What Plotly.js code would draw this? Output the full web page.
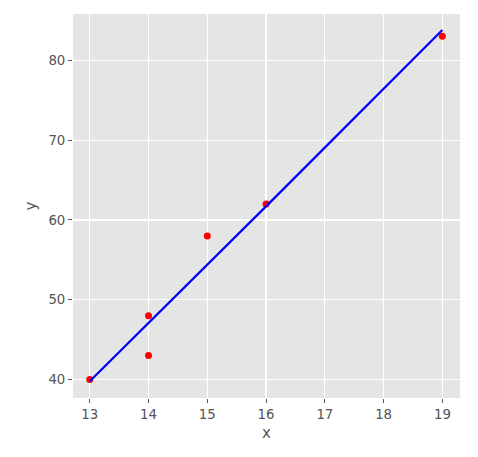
<!DOCTYPE html>
<html>
<head>
<meta charset="utf-8">
<script src="https://cdn.plot.ly/plotly-3.0.1.min.js"></script>
<style>html,body{margin:0;padding:0;background:#fff;}#chart{width:478px;height:457px;}</style>
</head>
<body>
<div id="chart"></div>
<script>
const xValues = [13, 14, 14, 15, 16, 19];
const yValues = [40, 48, 43, 58, 62, 83];
const fitValues = [39.8, 47.1, 47.1, 54.4, 61.7, 83.8];
const xTicks = [13, 14, 15, 16, 17, 18, 19];
const yTicks = [40, 50, 60, 70, 80];

const traces = [
  {x: xValues, y: yValues, type: 'scatter', mode: 'markers',
   marker: {color: '#ff0000', size: 7}, hoverinfo: 'none'},
  {x: xValues, y: fitValues, type: 'scatter', mode: 'lines',
   line: {color: '#0000ff', width: 2.2}, hoverinfo: 'none'}
];

const axisCommon = {
  showgrid: true, gridcolor: '#ffffff', gridwidth: 1.2,
  zeroline: false, showline: false,
  ticks: 'outside', ticklen: 4, tickwidth: 1, tickcolor: '#555555',
  tickfont: {family: 'DejaVu Sans', size: 13.3, color: '#555555'}
};

const layout = {
  width: 478, height: 457,
  margin: {l: 73, r: 18, t: 14, b: 59},
  paper_bgcolor: '#ffffff', plot_bgcolor: '#e5e5e5',
  showlegend: false,
  xaxis: Object.assign({}, axisCommon, {
    range: [12.715, 19.30], tickvals: xTicks, ticktext: xTicks.map(String),
    title: {text: 'x', standoff: 6, font: {family: 'DejaVu Sans', size: 15, color: '#555555'}}
  }),
  yaxis: Object.assign({}, axisCommon, {
    range: [37.69, 85.8], tickvals: yTicks, ticktext: yTicks.map(String),
    title: {text: 'y', standoff: 8, font: {family: 'DejaVu Sans', size: 15, color: '#555555'}}
  })
};

Plotly.newPlot('chart', traces, layout, {staticPlot: true, displayModeBar: false});
</script>
</body>
</html>
